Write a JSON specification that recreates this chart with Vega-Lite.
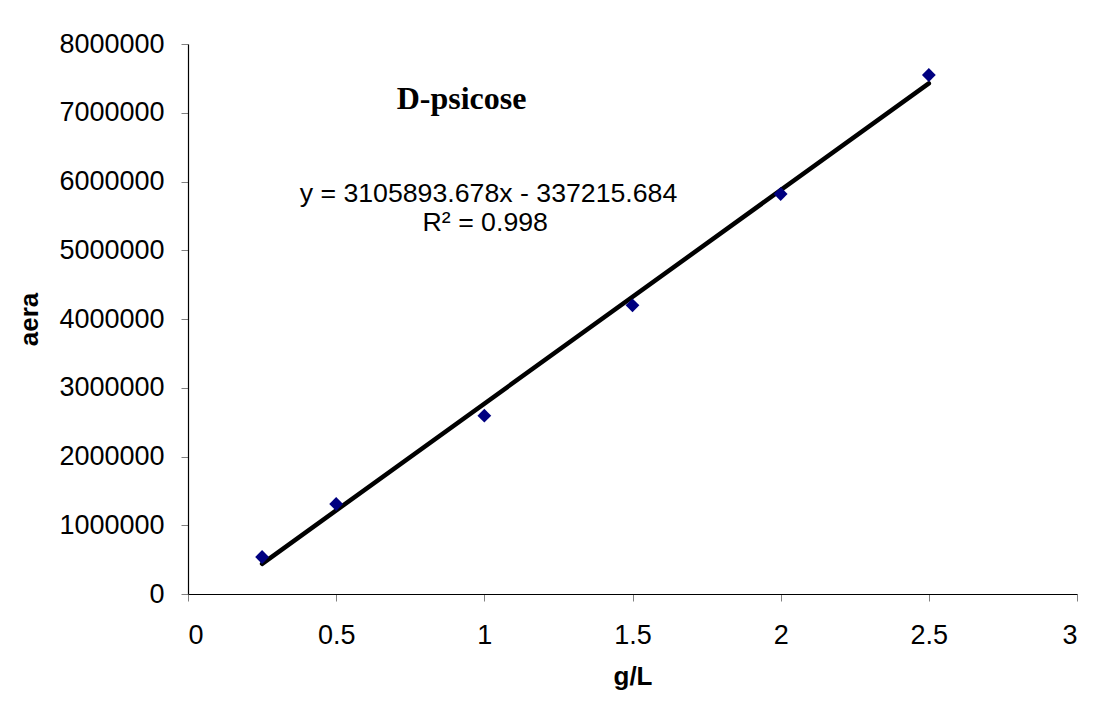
{
  "$schema": "https://vega.github.io/schema/vega-lite/v6.json",
  "autosize": "none",
  "width": 889,
  "height": 550,
  "padding": {"left": 188, "top": 44, "right": 32, "bottom": 117},
  "background": "white",
  "config": {"view": {"stroke": null}, "font": "Liberation Sans"},
  "datasets": {
    "points": [
      {"conc": 0.25, "area": 538000},
      {"conc": 0.5, "area": 1309000},
      {"conc": 1.0, "area": 2593000},
      {"conc": 1.5, "area": 4199000},
      {"conc": 2.0, "area": 5818000},
      {"conc": 2.5, "area": 7549000}
    ],
    "trend": [
      {"conc": 0.25, "area": 439258},
      {"conc": 2.5, "area": 7427518}
    ],
    "notes": [
      {"conc": 0.923, "area": 7050000, "label": "D-psicose", "kind": "title"},
      {"conc": 1.014, "area": 5706000, "label": "y = 3105893.678x - 337215.684", "kind": "eq"},
      {"conc": 1.003, "area": 5280000, "label": "R² = 0.998", "kind": "eq"}
    ]
  },
  "layer": [
    {
      "data": {"name": "trend"},
      "mark": {"type": "line", "color": "black", "strokeWidth": 4.5, "strokeCap": "round"},
      "encoding": {
        "x": {
          "field": "conc", "type": "quantitative",
          "scale": {"domain": [0, 3], "nice": false, "zero": false},
          "axis": {
            "title": "g/L", "values": [0, 0.5, 1, 1.5, 2, 2.5, 3], "format": "~g",
            "grid": false, "domainColor": "black", "domainWidth": 1.2,
            "tickColor": "#808080", "tickSize": 7, "labelFontSize": 27, "labelColor": "black",
            "labelPadding": 21, "titleFontSize": 26, "titleFontWeight": "bold", "titleColor": "black",
            "titlePadding": 15, "labelFont": "Liberation Sans", "titleFont": "Liberation Sans"
          }
        },
        "y": {
          "field": "area", "type": "quantitative",
          "scale": {"domain": [0, 8000000], "nice": false},
          "axis": {
            "title": "aera", "values": [0, 1000000, 2000000, 3000000, 4000000, 5000000, 6000000, 7000000, 8000000],
            "format": "d", "grid": false, "domainColor": "black", "domainWidth": 1.2,
            "tickColor": "#808080", "tickSize": 7, "labelFontSize": 27, "labelColor": "black",
            "labelPadding": 17, "titleFontSize": 26, "titleFontWeight": "bold", "titleColor": "black",
            "titlePadding": 16, "labelFont": "Liberation Sans", "titleFont": "Liberation Sans"
          }
        }
      }
    },
    {
      "data": {"name": "points"},
      "mark": {"type": "point", "shape": "diamond", "filled": true, "color": "#000080", "size": 190, "opacity": 1},
      "encoding": {
        "x": {"field": "conc", "type": "quantitative"},
        "y": {"field": "area", "type": "quantitative"}
      }
    },
    {
      "data": {"name": "notes"},
      "transform": [{"filter": "datum.kind == 'title'"}],
      "mark": {"type": "text", "font": "Liberation Serif", "fontWeight": "bold", "fontSize": 32, "color": "black", "baseline": "alphabetic", "align": "center"},
      "encoding": {
        "x": {"field": "conc", "type": "quantitative"},
        "y": {"field": "area", "type": "quantitative"},
        "text": {"field": "label"}
      }
    },
    {
      "data": {"name": "notes"},
      "transform": [{"filter": "datum.kind == 'eq'"}],
      "mark": {"type": "text", "font": "Liberation Sans", "fontSize": 26.7, "color": "black", "baseline": "alphabetic", "align": "center"},
      "encoding": {
        "x": {"field": "conc", "type": "quantitative"},
        "y": {"field": "area", "type": "quantitative"},
        "text": {"field": "label"}
      }
    }
  ]
}
